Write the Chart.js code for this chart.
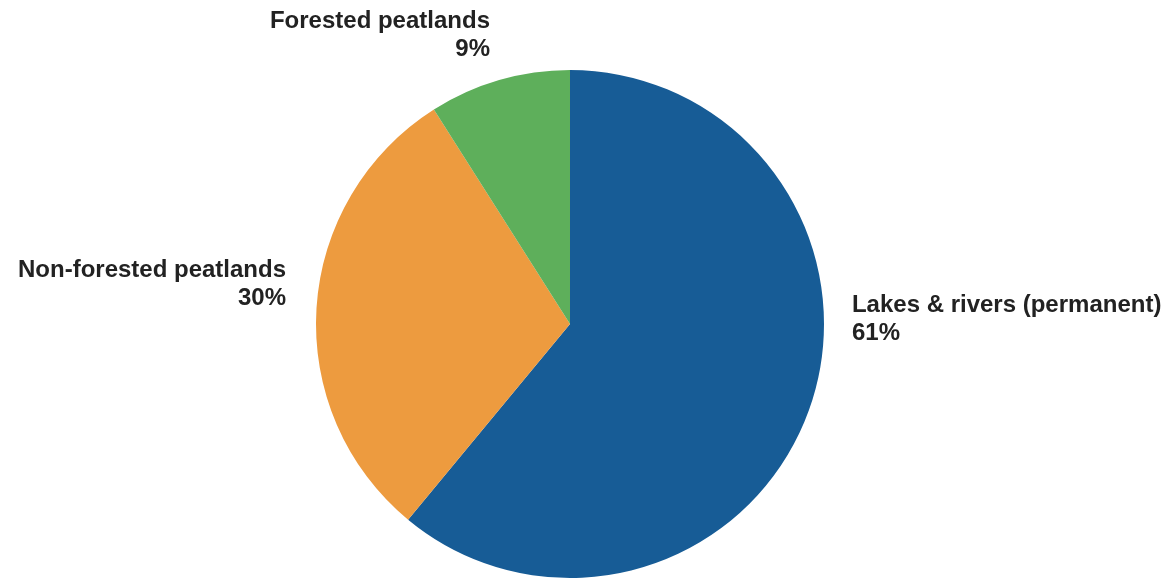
<!DOCTYPE html>
<html><head><meta charset="utf-8">
<script src="https://cdn.jsdelivr.net/npm/chart.js@4"></script>
<style>html,body{margin:0;padding:0;background:#fff;}#wrap{width:1164px;height:580px;position:relative;}</style>
</head><body><div id="wrap"><canvas id="c" width="1164" height="580"></canvas></div>
<script>
const categories = ["Lakes & rivers (permanent)", "Non-forested peatlands", "Forested peatlands"];
const values = [61, 30, 9];
const colors = ["#175C96", "#ED9B3F", "#5EAF5B"];

// label placement relative to pie centre, in units of radius (first-line baseline)
const labelPlace = [
  {dx: 1.11, dy: -0.047, align: "left"},
  {dx: -1.118, dy: -0.185, align: "right"},
  {dx: -0.315, dy: -1.165, align: "right"}
];

const labelPlugin = {
  id: "pieLabels",
  afterDatasetsDraw(chart) {
    const ctx = chart.ctx;
    const meta = chart.getDatasetMeta(0);
    const total = values.reduce((a, b) => a + b, 0);
    ctx.save();
    ctx.font = "bold 24px 'Liberation Sans', Arial, sans-serif";
    ctx.fillStyle = "#222222";
    ctx.textBaseline = "alphabetic";
    meta.data.forEach((arc, i) => {
      const r = arc.outerRadius;
      const p = labelPlace[i];
      const x = arc.x + p.dx * r;
      const y = arc.y + p.dy * r;
      ctx.textAlign = p.align;
      ctx.fillText(categories[i], x, y);
      ctx.fillText(Math.round(values[i] / total * 100) + "%", x, y + 28);
    });
    ctx.restore();
  }
};

new Chart(document.getElementById("c"), {
  type: "pie",
  data: {
    labels: categories,
    datasets: [{data: values, backgroundColor: colors, borderWidth: 0}]
  },
  options: {
    responsive: false,
    animation: false,
    layout: {padding: {left: 316, right: 340, top: 70, bottom: 2}},
    plugins: {legend: {display: false}, tooltip: {enabled: false}}
  },
  plugins: [labelPlugin]
});
</script></body></html>
